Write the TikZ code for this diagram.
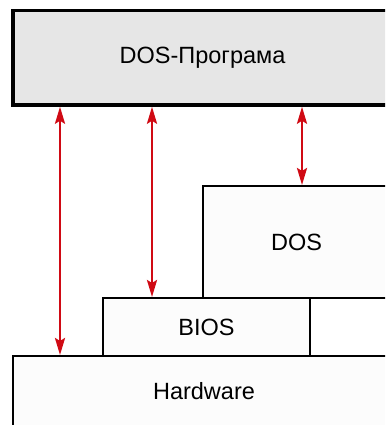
\documentclass[tikz,border=0pt]{standalone}
\usepackage{fontspec}
\setmainfont{Liberation Sans}
\usetikzlibrary{arrows.meta}
\definecolor{arrred}{HTML}{D00A14}
\definecolor{progfill}{HTML}{E6E6E6}
\definecolor{boxfill}{HTML}{FCFCFC}
\begin{document}
\begin{tikzpicture}[x=1pt,y=-1pt,
  layer/.style={draw=black, line width=2pt, fill=boxfill, inner sep=0pt,
    font=\fontsize{23.5}{28}\selectfont, text=black},
  prog/.style={layer, line width=3.5pt, fill=progfill},
  tip/.style={Stealth[length=17pt,width=10pt,inset=3pt]},
  link/.style={draw=arrred, line width=2.4pt, {Stealth[length=17pt,width=10pt,inset=3pt]}-{Stealth[length=17pt,width=10pt,inset=3pt]}}]
\useasboundingbox (0,0) rectangle (385,425);
\clip (0,0) rectangle (385,425);
\fill[white] (0,0) rectangle (385,425);
% boxes
\node[prog, minimum width=379pt, minimum height=94.5pt] (program) at (202.5,57.75) {DOS-Програма};
\node[layer, minimum width=187pt, minimum height=112pt] (dos) at (296.5,242) {DOS};
\node[layer, minimum width=382pt, minimum height=71pt] (hw) at (204,391.5) {Hardware};
\node[layer, minimum width=207pt, minimum height=58pt] (bios) at (206.5,327) {BIOS};
% arrow positions
\coordinate (c1) at (60,0);
\coordinate (c2) at (152,0);
\coordinate (c3) at (302,0);
\draw[link] (program.south -| c1) -- (hw.north -| c1);
\draw[link] (program.south -| c2) -- (bios.north -| c2);
\draw[link] (program.south -| c3) -- (dos.north -| c3);
\end{tikzpicture}
\end{document}
